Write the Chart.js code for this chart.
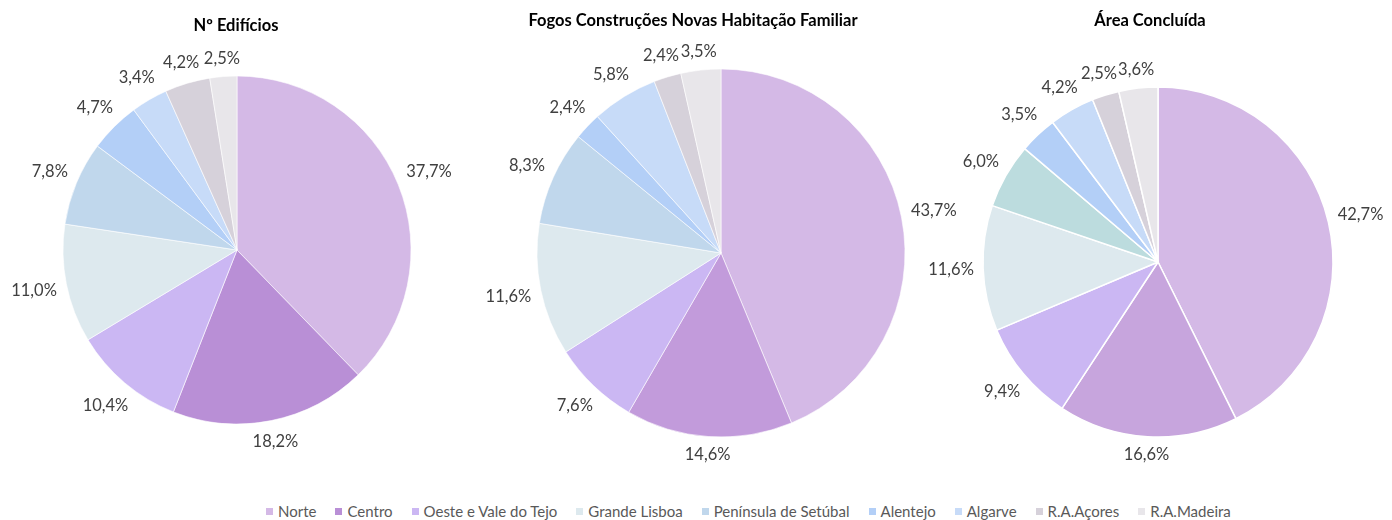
<!DOCTYPE html>
<html>
<head>
<meta charset="utf-8">
<script src="https://cdn.jsdelivr.net/npm/chart.js@4.4.1/dist/chart.umd.min.js"></script>
<style>
  html, body { margin: 0; padding: 0; background: #fff; }
  #wrap { position: relative; width: 1392px; height: 520px; overflow: hidden; }
  canvas { position: absolute; left: 0; top: 0; }
  .title {
    position: absolute; transform: translate(-50%, -50%);
    font: bold 16.5px Lato, sans-serif; color: #000; white-space: nowrap;
  }
  #legend {
    position: absolute; left: 266px; top: 502px; display: flex; align-items: center;
    font: 15px Lato, sans-serif; color: #595959; white-space: nowrap;
  }
  #legend .item { display: flex; align-items: center; margin-right: 19px; }
  #legend .sw { width: 7px; height: 7px; margin-right: 5px; }
</style>
</head>
<body>
<div id="wrap">
  <canvas id="pie1" width="1392" height="490"></canvas>
  <canvas id="pie2" width="1392" height="490"></canvas>
  <canvas id="pie3" width="1392" height="490"></canvas>
  <div id="titles"></div>
  <div id="legend"></div>
</div>
<script>
const regions = ["Norte", "Centro", "Oeste e Vale do Tejo", "Grande Lisboa", "Península de Setúbal",
  "Alentejo", "Algarve", "R.A.Açores", "R.A.Madeira"];

const edificios = [37.7, 18.2, 10.4, 11.0, 7.8, 4.7, 3.4, 4.2, 2.5];
const fogos = [43.7, 14.6, 7.6, 11.6, 8.3, 2.4, 5.8, 2.4, 3.5];
const areaConcluida = [42.7, 16.6, 9.4, 11.6, 6.0, 3.5, 4.2, 2.5, 3.6];

const chartTitles = ["Nº Edifícios", "Fogos Construções Novas Habitação Familiar", "Área Concluída"];

const coloursEdificios = ["#d4b9e6", "#b98fd6", "#cbb7f3", "#dde9ee", "#c0d7ec", "#b3cff7", "#c7dbf8", "#d6d1da", "#e8e6ea"];
const coloursFogos = ["#d4b9e6", "#c29bdb", "#cbb7f3", "#dde9ee", "#c0d7ec", "#b3cff7", "#c7dbf8", "#d6d1da", "#e8e6ea"];
const coloursArea = ["#d4b9e6", "#c7a5dd", "#cbb7f3", "#dde9ee", "#bcdcde", "#b3cff7", "#c7dbf8", "#d6d1da", "#e8e6ea"];

const pies = [
  { id: "pie1", data: edificios, colours: coloursEdificios, cx: 237, cy: 250, r: 174, border: 0.6, titleX: 236, titleY: 25 },
  { id: "pie2", data: fogos, colours: coloursFogos, cx: 721, cy: 253, r: 184, border: 0.6, titleX: 693, titleY: 20 },
  { id: "pie3", data: areaConcluida, colours: coloursArea, cx: 1158, cy: 262, r: 175, border: 1.5, titleX: 1150, titleY: 20 }
];

function fmtPct(v) {
  return v.toFixed(1).replace(".", ",") + "%";
}

// value labels just outside the rim, at each slice's mid angle
const outsideLabels = {
  id: "outsideLabels",
  afterDatasetsDraw(chart) {
    const { ctx } = chart;
    const meta = chart.getDatasetMeta(0);
    const values = chart.data.datasets[0].data;
    ctx.save();
    ctx.font = "16.5px Lato";
    ctx.fillStyle = "#404040";
    ctx.textAlign = "center";
    ctx.textBaseline = "middle";
    meta.data.forEach((arc, i) => {
      const p = arc.getProps(["x", "y", "startAngle", "endAngle", "outerRadius"], true);
      const mid = (p.startAngle + p.endAngle) / 2;
      const text = fmtPct(values[i]);
      const w = ctx.measureText(text).width;
      const h = 16;
      const c = Math.cos(mid), s = Math.sin(mid);
      const d = p.outerRadius + 9 + Math.abs(c) * w / 2 + Math.abs(s) * h / 2;
      ctx.fillText(text, p.x + c * d, p.y + s * d);
    });
    ctx.restore();
  }
};

const W = 1392, H = 490;

pies.forEach(cfg => {
  const side = 2 * cfg.r + cfg.border;
  new Chart(document.getElementById(cfg.id), {
    type: "pie",
    data: {
      labels: regions,
      datasets: [{
        data: cfg.data,
        backgroundColor: cfg.colours,
        borderColor: "#ffffff",
        borderWidth: cfg.border
      }]
    },
    options: {
      responsive: false,
      animation: false,
      events: [],
      layout: {
        padding: {
          left: cfg.cx - side / 2,
          right: W - (cfg.cx + side / 2),
          top: cfg.cy - side / 2,
          bottom: H - (cfg.cy + side / 2)
        }
      },
      plugins: {
        legend: { display: false },
        tooltip: { enabled: false }
      }
    },
    plugins: [outsideLabels]
  });
});

const titlesDiv = document.getElementById("titles");
pies.forEach((cfg, i) => {
  const t = document.createElement("div");
  t.className = "title";
  t.style.left = cfg.titleX + "px";
  t.style.top = cfg.titleY + "px";
  t.textContent = chartTitles[i];
  titlesDiv.appendChild(t);
});

const legend = document.getElementById("legend");
regions.forEach((name, i) => {
  const item = document.createElement("div");
  item.className = "item";
  const sw = document.createElement("span");
  sw.className = "sw";
  sw.style.background = coloursEdificios[i];
  const label = document.createElement("span");
  label.textContent = name;
  item.appendChild(sw);
  item.appendChild(label);
  legend.appendChild(item);
});
</script>
</body>
</html>
